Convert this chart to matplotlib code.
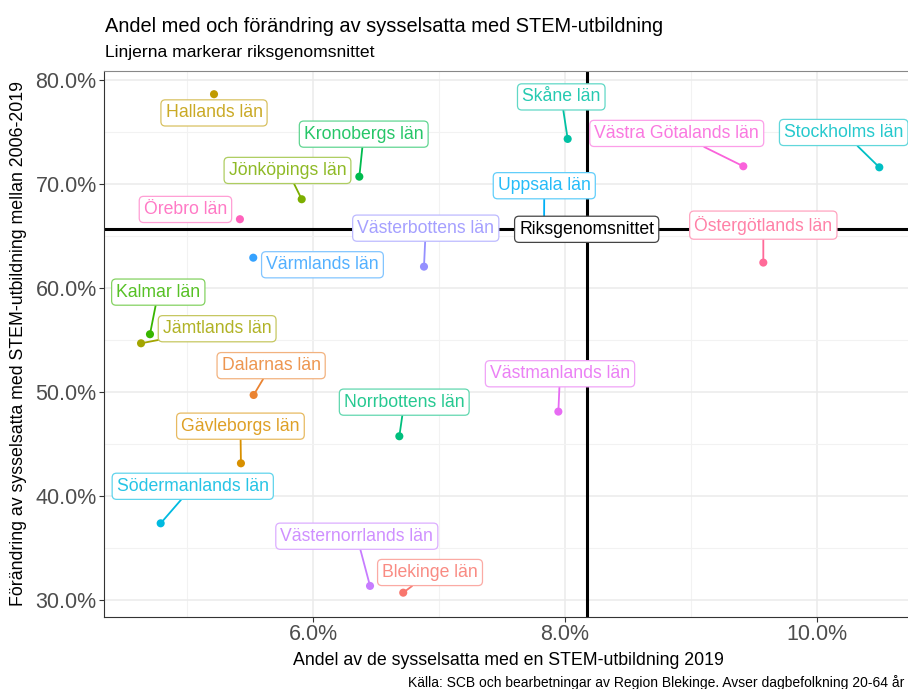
import numpy as np
import matplotlib
matplotlib.use("Agg")
import matplotlib.pyplot as plt
from matplotlib.ticker import FuncFormatter, MultipleLocator

# ---------------- data ----------------
counties = [
    "Blekinge län", "Dalarnas län", "Gävleborgs län", "Hallands län",
    "Jämtlands län", "Jönköpings län", "Kalmar län", "Kronobergs län",
    "Norrbottens län", "Skåne län", "Stockholms län", "Södermanlands län",
    "Uppsala län", "Värmlands län", "Västerbottens län", "Västernorrlands län",
    "Västmanlands län", "Västra Götalands län", "Örebro län", "Östergötlands län",
]
# share of employed with STEM education 2019 (%)
stem_share_2019 = [6.715, 5.526, 5.425, 5.211, 4.631, 5.908, 4.702, 6.366,
                   6.684, 8.022, 10.499, 4.787, 7.834, 5.523, 6.880, 6.451,
                   7.948, 9.418, 5.417, 9.577]
# change in employed with STEM education 2006-2019 (%)
stem_change_0619 = [30.70, 49.71, 43.14, 78.63, 54.68, 68.53, 55.55, 70.70,
                    45.74, 74.33, 71.60, 37.37, 65.30, 62.91, 62.05, 31.35,
                    48.11, 71.70, 66.61, 62.44]
national_label = "Riksgenomsnittet"
national_share = 8.173
national_change = 65.64

x_ticks = [6.0, 8.0, 10.0]
y_ticks = [30, 40, 50, 60, 70, 80]

# ---------------- layout (label placement, repel-like) ----------------
label_xy = {
    "Hallands län": (5.211, 76.83),
    "Kronobergs län": (6.401, 74.79),
    "Jönköpings län": (5.795, 71.30),
    "Örebro län": (4.984, 67.55),
    "Värmlands län": (6.073, 62.23),
    "Västerbottens län": (6.894, 65.75),
    "Uppsala län": (7.836, 69.83),
    "Skåne län": (7.971, 78.37),
    "Västra Götalands län": (8.889, 74.86),
    "Stockholms län": (10.216, 74.95),
    "Östergötlands län": (9.577, 66.04),
    "Kalmar län": (4.768, 59.60),
    "Jämtlands län": (5.236, 56.08),
    "Dalarnas län": (5.665, 52.53),
    "Norrbottens län": (6.723, 49.02),
    "Gävleborgs län": (5.421, 46.71),
    "Södermanlands län": (5.042, 40.93),
    "Västernorrlands län": (6.346, 36.13),
    "Blekinge län": (6.928, 32.64),
    "Västmanlands län": (7.961, 51.75),
}
no_segment = {"Hallands län", "Örebro län", "Värmlands län"}


# ---------------- ggplot hue palette ----------------
def hcl_to_rgb(h, c=100.0, l=65.0):
    Xn, Yn, Zn = 95.047, 100.0, 108.883
    h = np.deg2rad(h)
    U, V = c * np.cos(h), c * np.sin(h)
    Y = Yn * ((l + 16) / 116) ** 3 if l > 8 else Yn * l / 903.3
    t = Xn + Yn + Zn
    x, y = Xn / t, Yn / t
    un = 2 * x / (6 * y - x + 1.5)
    vn = 4.5 * y / (6 * y - x + 1.5)
    u = U / (13 * l) + un
    v = V / (13 * l) + vn
    X = 9.0 * Y * u / (4 * v)
    Z = -X / 3 - 5 * Y + 3 * Y / v
    X, Y, Z = X / 100, Y / 100, Z / 100
    r = 3.240479 * X - 1.537150 * Y - 0.498535 * Z
    g = -0.969256 * X + 1.875992 * Y + 0.041556 * Z
    b = 0.055648 * X - 0.204043 * Y + 1.057311 * Z

    def gam(u):
        u = 12.92 * u if u <= 0.0031308 else 1.055 * u ** (1 / 2.4) - 0.055
        return min(max(u, 0), 1)
    return (gam(r), gam(g), gam(b))


def mix_white(col, f):
    return tuple(ci + (1 - ci) * f for ci in col)


n = len(counties)
hues = np.linspace(15, 375, n + 1)[:n]
colors = [hcl_to_rgb(hh) for hh in hues]

# ---------------- figure ----------------
W, H = 908, 689
plt.rcParams["font.family"] = ["Liberation Sans", "DejaVu Sans"]
fig = plt.figure(figsize=(W / 100, H / 100), dpi=100)

left_px, top_px, bottom_px, right_px = 104.3, 70.7, 616.7, 908
ax = fig.add_axes([left_px / W, 1 - bottom_px / H,
                   (right_px - left_px) / W, (bottom_px - top_px) / H])
ax.set_xlim(4.339, 10.727)
ax.set_ylim(28.39, 80.89)

ax.xaxis.set_major_locator(plt.FixedLocator(x_ticks))
ax.yaxis.set_major_locator(plt.FixedLocator(y_ticks))
ax.xaxis.set_minor_locator(MultipleLocator(1.0))
ax.yaxis.set_minor_locator(MultipleLocator(5.0))
ax.xaxis.set_major_formatter(FuncFormatter(lambda v, p: f"{v:.1f}%"))
ax.yaxis.set_major_formatter(FuncFormatter(lambda v, p: f"{v:.1f}%"))
ax.grid(which="major", color="#EBEBEB", lw=1.1, zorder=0)
ax.grid(which="minor", color="#F2F2F2", lw=0.8, zorder=0)
ax.set_axisbelow(True)
ax.tick_params(which="major", length=3.5, width=0.8, color="#333333",
               labelcolor="#4D4D4D", labelsize=15.5, pad=2)
ax.tick_params(which="minor", length=0)
for s in ["left", "bottom", "top"]:
    ax.spines[s].set_color("#333333")
    ax.spines[s].set_linewidth(0.8)
ax.spines["top"].set_color("#888888")
ax.spines["right"].set_visible(False)

# national average lines
ax.axvline(national_share, color="black", lw=2.2, zorder=2)
ax.axhline(national_change, color="black", lw=2.2, zorder=2)

# points
ax.scatter(stem_share_2019, stem_change_0619, s=34, c=colors, zorder=4,
           linewidths=0)

# labels
for name, xv, yv, col in zip(counties, stem_share_2019, stem_change_0619, colors):
    lx, ly = label_xy[name]
    arrow = None
    if name not in no_segment:
        arrow = dict(arrowstyle="-", color=col, lw=1.3, shrinkA=0, shrinkB=2.5)
    ax.annotate(name, xy=(xv, yv), xytext=(lx, ly), textcoords="data",
                ha="center", va="center", fontsize=12.7,
                color=mix_white(col, 0.15),
                bbox=dict(boxstyle="round,pad=0.26,rounding_size=0.25",
                          fc="white", ec=mix_white(col, 0.38), lw=0.9),
                arrowprops=arrow, zorder=5, annotation_clip=False)

ax.annotate(national_label, xy=(national_share, national_change),
            ha="center", va="center", fontsize=12.7, color="black",
            bbox=dict(boxstyle="round,pad=0.26,rounding_size=0.25",
                      fc="white", ec="#444444", lw=0.9), zorder=6)

# texts
fig.text(105 / W, 1 - 31.7 / H, "Andel med och förändring av sysselsatta med STEM-utbildning",
         fontsize=14.4, color="black", ha="left", va="baseline")
fig.text(105 / W, 1 - 57.3 / H, "Linjerna markerar riksgenomsnittet",
         fontsize=12.6, color="black", ha="left", va="baseline")
fig.text(508 / W, 1 - 665 / H, "Andel av de sysselsatta med en STEM-utbildning 2019",
         fontsize=12.8, color="black", ha="center", va="baseline")
fig.text(19 / W, 1 - 343.7 / H,
         "Förändring av sysselsatta med STEM-utbildning mellan 2006-2019",
         fontsize=12.8, color="black", ha="center", va="center", rotation=90)
fig.text(904 / W, 1 - 686.5 / H,
         "Källa: SCB och bearbetningar av Region Blekinge. Avser dagbefolkning 20-64 år",
         fontsize=10.0, color="black", ha="right", va="baseline")

fig.savefig("out.png", dpi=100)
